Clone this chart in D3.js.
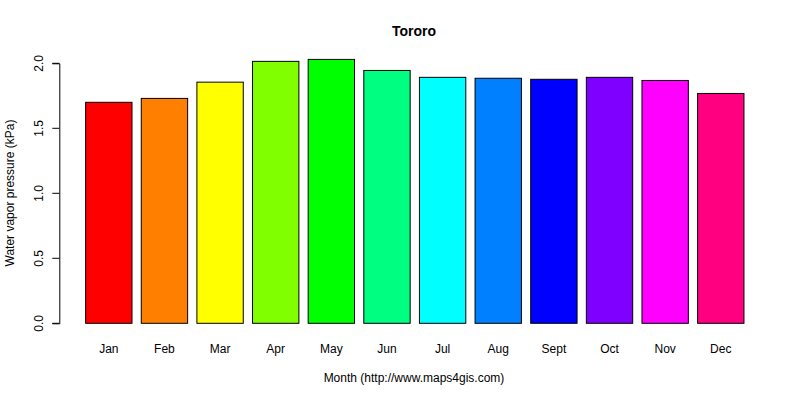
<!DOCTYPE html>
<html>
<head>
<meta charset="utf-8">
<script src="https://cdn.jsdelivr.net/npm/d3@7"></script>
<style>
body{margin:0;background:#fff;}
text{font-family:"Liberation Sans",Arial,sans-serif;fill:#000;}
</style>
</head>
<body>
<svg id="chart" width="800" height="400"></svg>
<script>
const months = ["Jan","Feb","Mar","Apr","May","Jun","Jul","Aug","Sept","Oct","Nov","Dec"];
const values = [1.70,1.73,1.855,2.015,2.03,1.945,1.892,1.885,1.877,1.892,1.868,1.768];
const colors = ["#FF0000","#FF8000","#FFFF00","#80FF00","#00FF00","#00FF80","#00FFFF","#0080FF","#0000FF","#8000FF","#FF00FF","#FF0080"];
const yTicks = [0,0.5,1.0,1.5,2.0];

const svg = d3.select("#chart");
// R barplot layout: width 1, space 0.2
const x = d3.scaleLinear().domain([-0.368,14.968]).range([59.3,770.3]);
const y = d3.scaleLinear().domain([0,2]).range([323.3,63.3]);

svg.append("g").selectAll("rect").data(values).join("rect")
  .attr("x",(d,i)=>x(0.2+1.2*i))
  .attr("width",(d,i)=>x(1.2+1.2*i)-x(0.2+1.2*i))
  .attr("y",d=>y(d))
  .attr("height",d=>y(0)-y(d))
  .attr("fill",(d,i)=>colors[i])
  .attr("stroke","#000").attr("stroke-width",1);

// month labels
svg.append("g").selectAll("text").data(months).join("text")
  .attr("x",(d,i)=>x(0.7+1.2*i))
  .attr("y",353.3)
  .attr("text-anchor","middle")
  .attr("font-size","12px")
  .text(d=>d);

// y axis
const yAxis = d3.axisLeft(y).tickValues(yTicks).tickFormat(d3.format(".1f")).tickSizeOuter(0).tickSize(7);
const gy = svg.append("g").attr("transform","translate(59.3,0)").call(yAxis);
gy.select(".domain").attr("stroke","#000");
gy.selectAll(".tick line").attr("stroke","#000");
gy.selectAll(".tick").attr("transform",null);
gy.selectAll(".tick line").attr("transform",d=>`translate(0,${y(d)})`);
gy.selectAll(".tick text")
  .attr("font-size","12px")
  .attr("font-family","Liberation Sans, Arial, sans-serif")
  .attr("fill","#000")
  .attr("text-anchor","middle")
  .attr("x",null).attr("y",null).attr("dy",null)
  .attr("transform",d=>`translate(-16.5,${y(d)}) rotate(-90)`);

// titles
svg.append("text").attr("x",414).attr("y",36).attr("text-anchor","middle")
  .attr("font-size","14px").attr("font-weight","bold").text("Tororo");
svg.append("text").attr("x",414).attr("y",382).attr("text-anchor","middle")
  .attr("font-size","12px").text("Month (http://www.maps4gis.com)");
svg.append("text").attr("transform","translate(14,193) rotate(-90)").attr("text-anchor","middle")
  .attr("font-size","12px").text("Water vapor pressure (kPa)");
</script>
</body>
</html>
